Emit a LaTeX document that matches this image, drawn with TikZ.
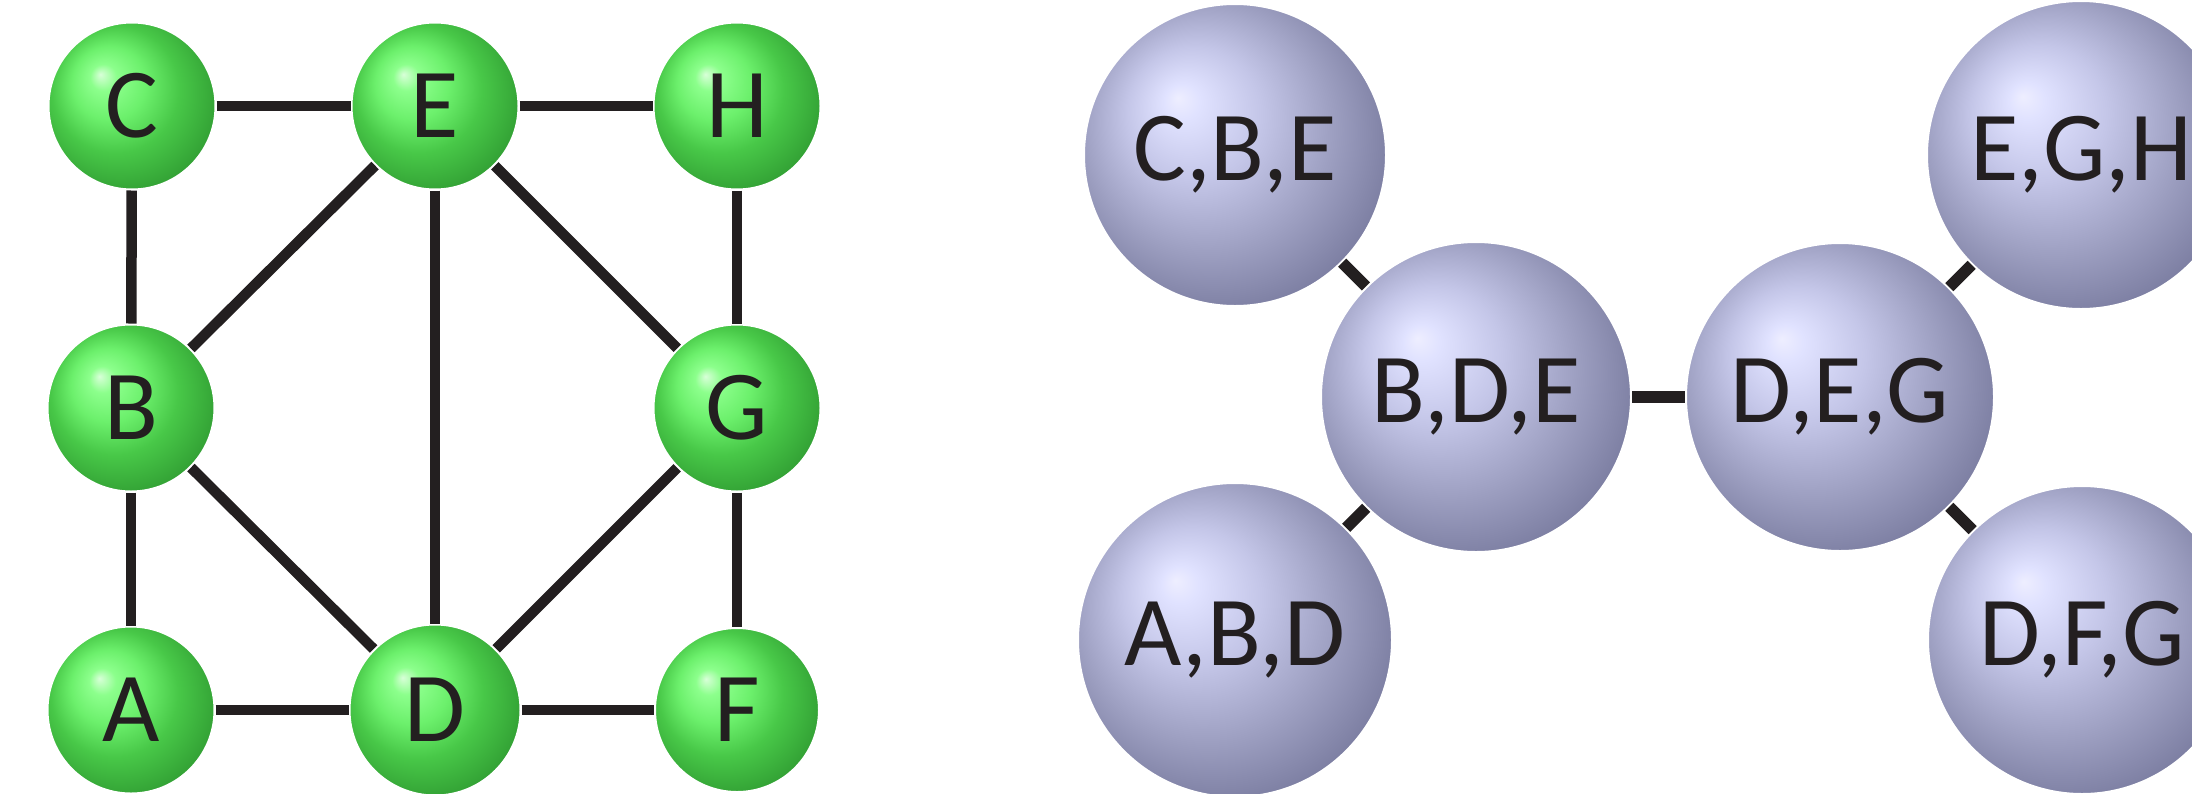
\documentclass[tikz,border=0pt]{standalone}
\usepackage{fontspec}
\setmainfont{Carlito}
\definecolor{gA}{HTML}{D8FFD8}
\definecolor{gB}{HTML}{8CFF8C}
\definecolor{gC}{HTML}{6CF06C}
\definecolor{gD}{HTML}{48C848}
\definecolor{gE}{HTML}{32A034}
\definecolor{gF}{HTML}{1E6A20}
\definecolor{bA}{HTML}{EEEEFF}
\definecolor{bB}{HTML}{E0E2FF}
\definecolor{bC}{HTML}{C4C6E8}
\definecolor{bD}{HTML}{9C9EC0}
\definecolor{bE}{HTML}{74769A}
\definecolor{bF}{HTML}{48495F}
\definecolor{ink}{HTML}{231F20}
\pgfdeclareradialshading{greenball}{\pgfpoint{-9.5bp}{9.5bp}}{color(0bp)=(gA);color(4bp)=(gB);color(11bp)=(gC);color(19bp)=(gD);color(29bp)=(gE);color(40bp)=(gF)}
\pgfdeclareradialshading{blueball}{\pgfpoint{-9.5bp}{9.5bp}}{color(0bp)=(bA);color(3bp)=(bB);color(11bp)=(bC);color(21bp)=(bD);color(31bp)=(bE);color(40bp)=(bF)}
\tikzset{
  gnode/.style={circle, shading=greenball, draw=white, line width=2pt, minimum size=167pt, inner sep=0pt, text=ink, font=\fontsize{99}{99}\selectfont},
  bnode/.style={circle, shading=blueball, draw=white, line width=2pt, minimum size=306pt, inner sep=0pt, text=ink, font=\fontsize{99}{99}\selectfont},
  gedge/.style={draw=ink, line width=10.5pt},
  bedge/.style={draw=ink, line width=11.5pt}
}
\begin{document}
\begin{tikzpicture}[x=1pt,y=-1pt]
\useasboundingbox (0,0) rectangle (2192,793);
\clip (0,0) rectangle (2192,793);
% left graph
\node[gnode] (C) at (132,106) {C};
\node[gnode] (E) at (435,106) {E};
\node[gnode] (H) at (737,106) {H};
\node[gnode] (B) at (131,408) {B};
\node[gnode] (G) at (737,408) {G};
\node[gnode] (A) at (131,710) {A};
\node[gnode, minimum size=171pt] (D) at (435,710) {D};
\node[gnode, minimum size=164pt] (F) at (737,710) {F};
\draw[gedge] (C) -- (E);
\draw[gedge] (E) -- (H);
\draw[gedge] (C) -- (B);
\draw[gedge] (H) -- (G);
\draw[gedge] (B) -- (A);
\draw[gedge] (G) -- (F);
\draw[gedge] (A) -- (D);
\draw[gedge] (D) -- (F);
\draw[gedge] (E) -- (D);
\draw[gedge] (B) -- (E);
\draw[gedge] (E) -- (G);
\draw[gedge] (B) -- (D);
\draw[gedge] (D) -- (G);
% right graph
\node[bnode, minimum size=302pt] (CBE) at (1235,155) {C,B,E};
\node[bnode, minimum size=310pt] (BDE) at (1476,397) {B,D,E};
\node[bnode, minimum size=308pt] (DEG) at (1840,397) {D,E,G};
\node[bnode, minimum size=308pt] (EGH) at (2081,155) {E,G,H};
\node[bnode, minimum size=314pt] (ABD) at (1235,640) {A,B,D};
\node[bnode, minimum size=308pt] (DFG) at (2082,640) {D,F,G};
\draw[bedge] (CBE) -- (BDE);
\draw[bedge] (ABD) -- (BDE);
\draw[bedge] (BDE) -- (DEG);
\draw[bedge] (DEG) -- (EGH);
\draw[bedge] (DEG) -- (DFG);
\end{tikzpicture}
\end{document}
